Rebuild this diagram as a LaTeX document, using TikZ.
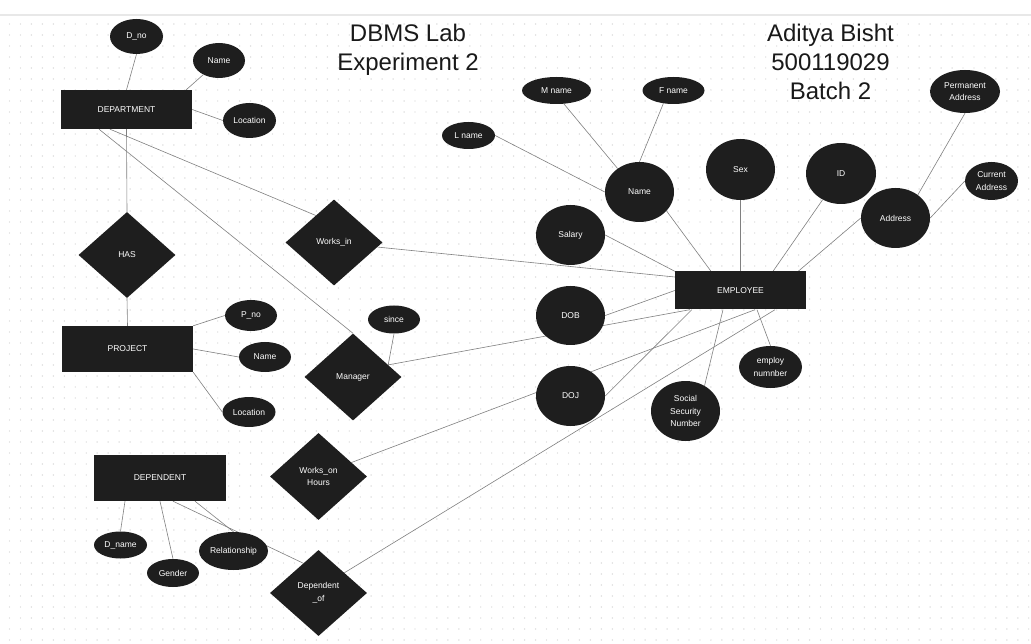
\documentclass[tikz,border=0pt]{standalone}
\usepackage{fontspec}
\setmainfont{Liberation Sans}
\usetikzlibrary{shapes.geometric,calc}
\pgfdeclarelayer{grid}
\pgfdeclarelayer{background}
\pgfsetlayers{grid,background,main}
\definecolor{shapec}{HTML}{1E1E1E}
\definecolor{linkc}{HTML}{808080}
\definecolor{dotc}{HTML}{D2D2D2}
\definecolor{topline}{HTML}{E8E8E8}
\newcommand{\erfont}{\fontsize{8.5}{12.5}\selectfont}
\begin{document}
\begin{tikzpicture}[x=1pt,y=-1pt,
  ent/.style={rectangle, fill=shapec, text=white, minimum width=131pt, inner sep=0pt, font=\erfont},
  attr/.style={ellipse, fill=shapec, text=white, inner sep=0pt, align=center, font=\erfont},
  rel/.style={diamond, fill=shapec, text=white, inner sep=0pt, minimum width=97pt, minimum height=86pt, align=center, font=\erfont},
  link/.style={draw=linkc, line width=0.6pt},
  titletext/.style={font=\fontsize{24}{29}\selectfont, text=black!90, align=center}
]
\useasboundingbox (0,0) rectangle (1031,644);

% entities and relationships
\node[ent, minimum height=39pt] (dept) at (126.5,109.5) {DEPARTMENT};
\node[attr, minimum width=53pt, minimum height=35pt] (dno) at (136.5,36.5) {D\_no};
\node[attr, minimum width=52pt, minimum height=35pt] (dname) at (219,60.5) {Name};
\node[attr, minimum width=53pt, minimum height=35pt] (dloc) at (249.5,120.5) {Location};
\node[rel] (has) at (127,255) {HAS};
\node[ent, minimum height=46pt] (proj) at (127.5,349) {PROJECT};
\node[attr, minimum width=52pt, minimum height=31pt] (pno) at (251,315.5) {P\_no};
\node[attr, minimum width=52pt, minimum height=30pt] (pname) at (265,357) {Name};
\node[attr, minimum width=53pt, minimum height=30pt] (ploc) at (249,412) {Location};
\node[rel] (worksin) at (334,242.5) {Works\_in};
\node[rel, minimum height=87pt] (manager) at (353,377) {Manager};
\node[attr, minimum width=52pt, minimum height=28pt] (since) at (394,319.5) {since};
\node[rel, minimum height=87pt] (workson) at (318.5,476.5) {Works\_on\\Hours};
\node[rel] (depof) at (318.5,593) {Dependent\\\_of};
\node[ent, minimum width=132pt, minimum height=46pt] (dep) at (160,478) {DEPENDENT};
\node[attr, minimum width=53pt, minimum height=27pt] (dpname) at (120.5,545) {D\_name};
\node[attr, minimum width=52pt, minimum height=28pt] (gender) at (173,573) {Gender};
\node[attr, minimum width=69pt, minimum height=38pt] (relship) at (233.5,551) {Relationship};
\node[ent, minimum height=38pt] (emp) at (740.5,290.5) {EMPLOYEE};
\node[attr, minimum width=69pt, minimum height=60pt] (salary) at (570.5,235) {Salary};
\node[attr, minimum width=69pt, minimum height=60pt] (ename) at (639.5,192) {Name};
\node[attr, minimum width=69pt, minimum height=27pt] (mname) at (556.5,90.5) {M name};
\node[attr, minimum width=62pt, minimum height=27pt] (fname) at (673.5,90.5) {F name};
\node[attr, minimum width=53pt, minimum height=27pt] (lname) at (468.5,135.5) {L name};
\node[attr, minimum width=69pt, minimum height=61pt] (sex) at (740.5,169.5) {Sex};
\node[attr, minimum width=70pt, minimum height=61pt] (id) at (841,173.5) {ID};
\node[attr, minimum width=69pt, minimum height=60pt] (addr) at (895.5,218) {Address};
\node[attr, minimum width=70pt, minimum height=43pt] (perm) at (965,91.5) {Permanent\\Address};
\node[attr, minimum width=53pt, minimum height=38pt] (curr) at (991.5,181) {Current\\Address};
\node[attr, minimum width=69pt, minimum height=59pt] (dob) at (570.5,315.5) {DOB};
\node[attr, minimum width=69pt, minimum height=60pt] (doj) at (570.5,396) {DOJ};
\node[attr, minimum width=63pt, minimum height=42pt] (empno) at (770.5,367) {employ\\numnber};
\node[attr, minimum width=69pt, minimum height=60pt] (ssn) at (685.5,411) {Social\\Security\\Number};

% titles
\node[titletext] (t1) at (408,49.9) {DBMS Lab\\Experiment 2};
\node[titletext] (t2) at (830.5,61.9) {Aditya Bisht\\500119029\\Batch 2};

% connectors
\begin{pgfonlayer}{background}
\draw[link] (dno.south) -- (dept.north);
\draw[link] (dname.222) -- ([xshift=-6pt]dept.north east);
\draw[link] (dept.east) -- (dloc.west);
\draw[link] (dept.south) -- (has.north);
\draw[link] ([xshift=-27.5pt]dept.south) -- (manager.north);
\draw[link] ([xshift=-16.5pt]dept.south) -- (worksin.124);
\draw[link] (has.south) -- (proj.north);
\draw[link] (proj.north east) -- (pno.west);
\draw[link] (proj.east) -- (pname.west);
\draw[link] (proj.south east) -- (ploc.west);
\draw[link] (since.south) -- (manager.19);
\draw[link] (manager.19) -- ([xshift=15pt]emp.south west);
\draw[link] (worksin.-6) -- ([yshift=13.5pt]emp.west);
\draw[link] (workson.23) -- ([xshift=14.5pt]emp.south);
\draw[link] (depof.38) -- ([xshift=34.5pt]emp.south);
\draw[link] (salary.east) -- (emp.north west);
\draw[link] (ename.-35) -- ([xshift=-29.5pt]emp.north);
\draw[link] (mname.-61) -- (ename.133);
\draw[link] (fname.-128) -- (ename.north);
\draw[link] (lname.east) -- (ename.west);
\draw[link] (sex.south) -- (emp.north);
\draw[link] (id.-125) -- ([xshift=32.5pt]emp.north);
\draw[link] (addr.west) -- ([xshift=-8pt]emp.north east);
\draw[link] (perm.south) -- (addr.46);
\draw[link] (curr.west) -- (addr.east);
\draw[link] (dob.east) -- (emp.west);
\draw[link] (doj.east) -- ([xshift=17pt]emp.south west);
\draw[link] ([xshift=16.5pt]emp.south) -- (empno.north);
\draw[link] ([xshift=-17.5pt]emp.south) -- (ssn.53);
\draw[link] ([xshift=-35pt]dep.south) -- (dpname.north);
\draw[link] (dep.south) -- (gender.north);
\draw[link] ([xshift=35pt]dep.south) -- (relship.north);
\draw[link] ([xshift=13pt]dep.south) -- (depof.117);
\end{pgfonlayer}

% canvas: white page, dot grid, top rule
\begin{pgfonlayer}{grid}
\fill[white] (0,0) rectangle (1031,644);
\foreach \k in {0,...,56} {
  \draw[dotc, line width=1.4pt, line cap=round, dash pattern=on 0pt off 10.96pt]
    (9.5,{24+11*\k}) -- (1031,{24+11*\k});
}
\draw[topline, line width=1.5pt] (0,15) -- (1031,15);
\end{pgfonlayer}
\end{tikzpicture}
\end{document}
